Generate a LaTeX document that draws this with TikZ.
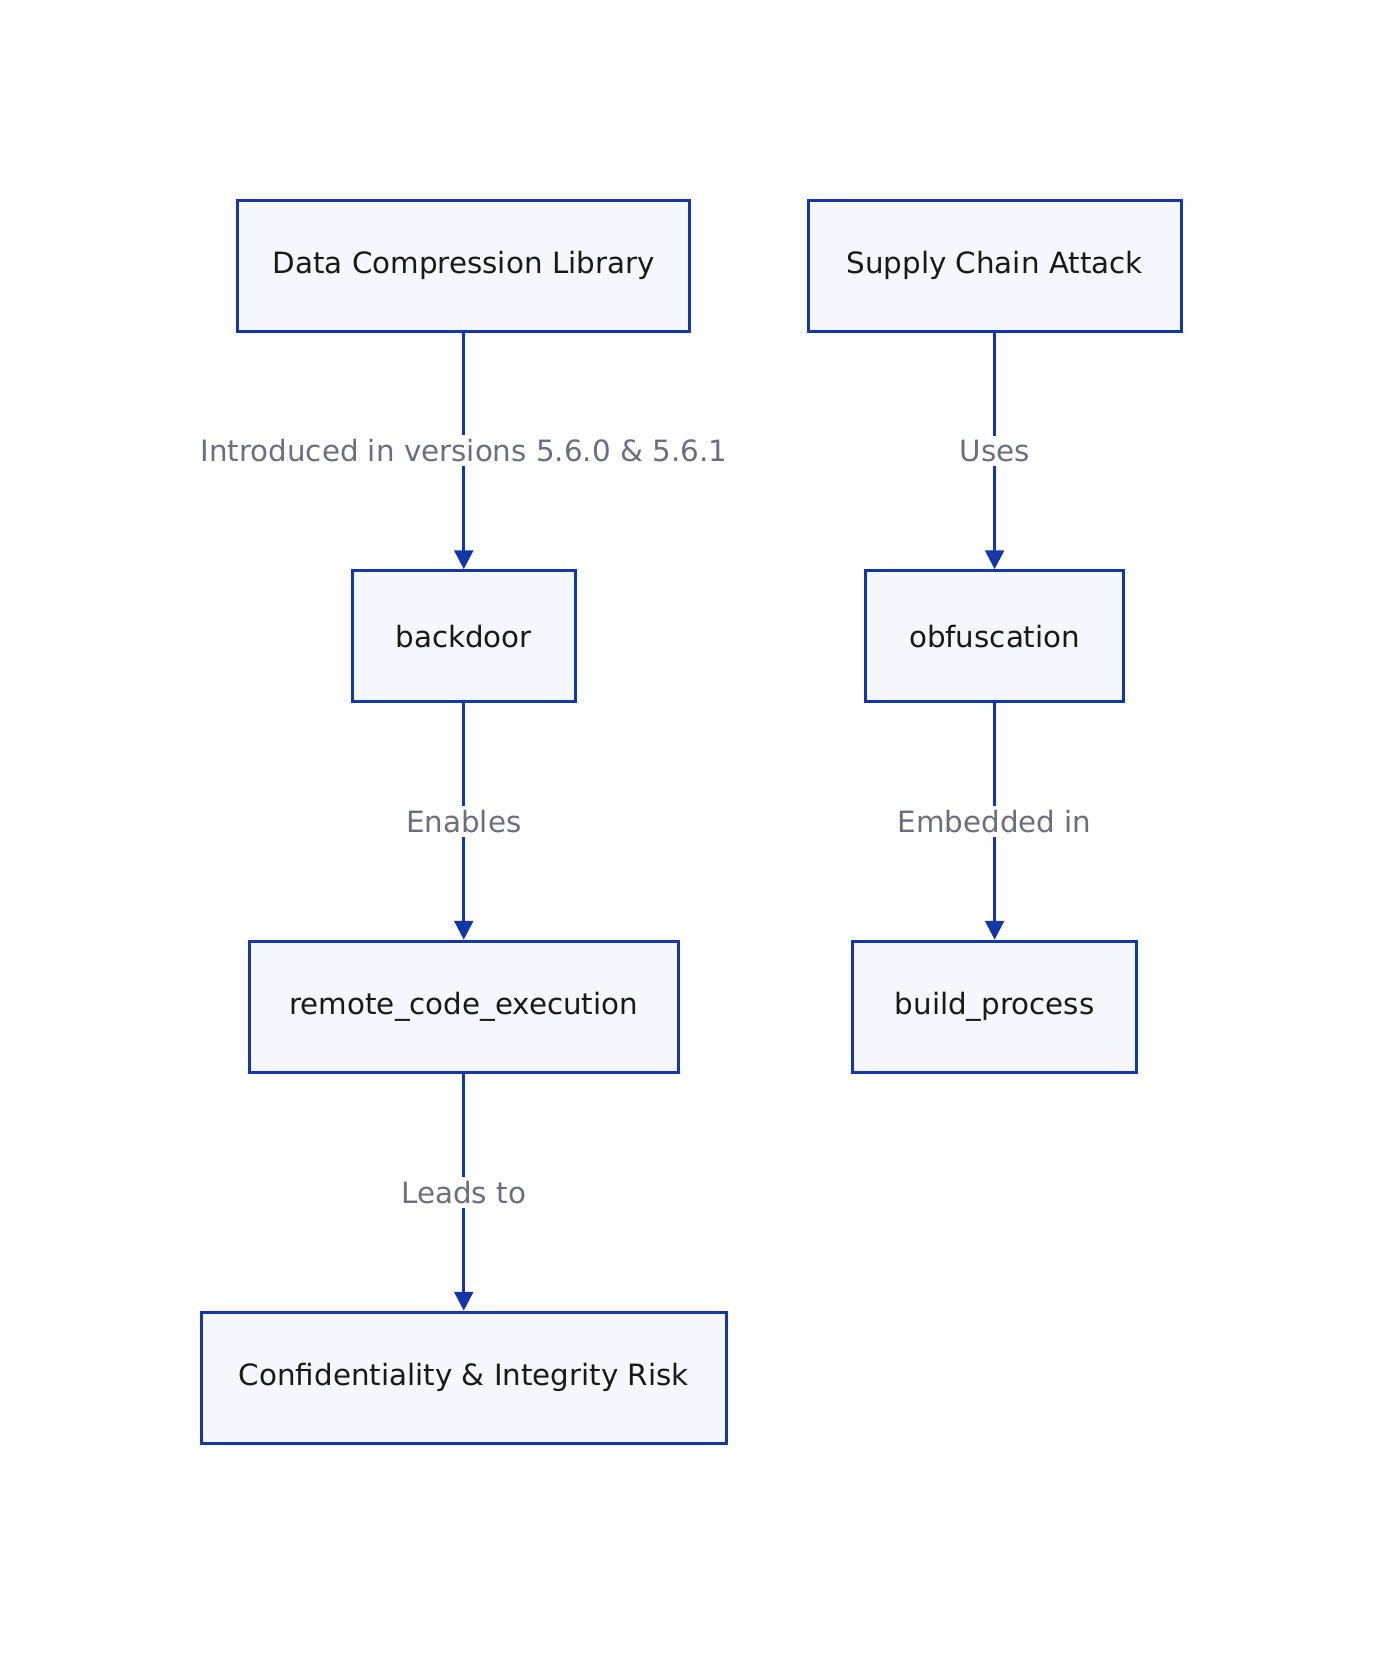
\documentclass[tikz,border=0pt]{standalone}
\usepackage{fontspec}
\setmainfont{DejaVu Sans}
\usetikzlibrary{arrows.meta,positioning}
\definecolor{boxfill}{HTML}{F5F7FC}
\definecolor{boxline}{HTML}{1437A8}
\definecolor{lbl}{HTML}{6B6E80}
\begin{document}
\begin{tikzpicture}[x=0.5pt, y=-0.5pt, thick]
        \tikzstyle{block} = [rectangle, draw=boxline, line width=1.4pt, fill=boxfill, text=black!90, minimum height=62.5pt, font=\fontsize{14}{17}\selectfont]
        \tikzstyle{line} = [draw=boxline, line width=1.4pt, -{Triangle[length=9pt,width=9pt]}]
        \tikzstyle{tag} = [fill=white, text=lbl, font=\fontsize{14}{17}\selectfont, inner sep=2pt]
        \useasboundingbox (0,0) rectangle (1330,1582);

        \node [block, minimum width=215.5pt] (lib) at (442.5,253.5) {Data Compression Library};
        \node [block, minimum width=178pt] (attack) at (949,253.5) {Supply Chain Attack};
        \node [block, minimum width=106.5pt] (backdoor) at (442.5,607) {backdoor};
        \node [block, minimum width=123pt] (obf) at (949,607) {obfuscation};
        \node [block, minimum width=204.5pt] (rce) at (442.5,960.5) {remote\_code\_execution};
        \node [block, minimum width=135.5pt] (build) at (949,960.5) {build\_process};
        \node [block, minimum width=250.5pt] (risk) at (442.5,1314.5) {Confidentiality \& Integrity Risk};

        \path [line] (lib) -- node [tag] {Introduced in versions 5.6.0 \& 5.6.1} (backdoor);
        \path [line] (backdoor) -- node [tag] {Enables} (rce);
        \path [line] (rce) -- node [tag] {Leads to} (risk);
        \path [line] (attack) -- node [tag] {Uses} (obf);
        \path [line] (obf) -- node [tag] {Embedded in} (build);
    \end{tikzpicture}
\end{document}
